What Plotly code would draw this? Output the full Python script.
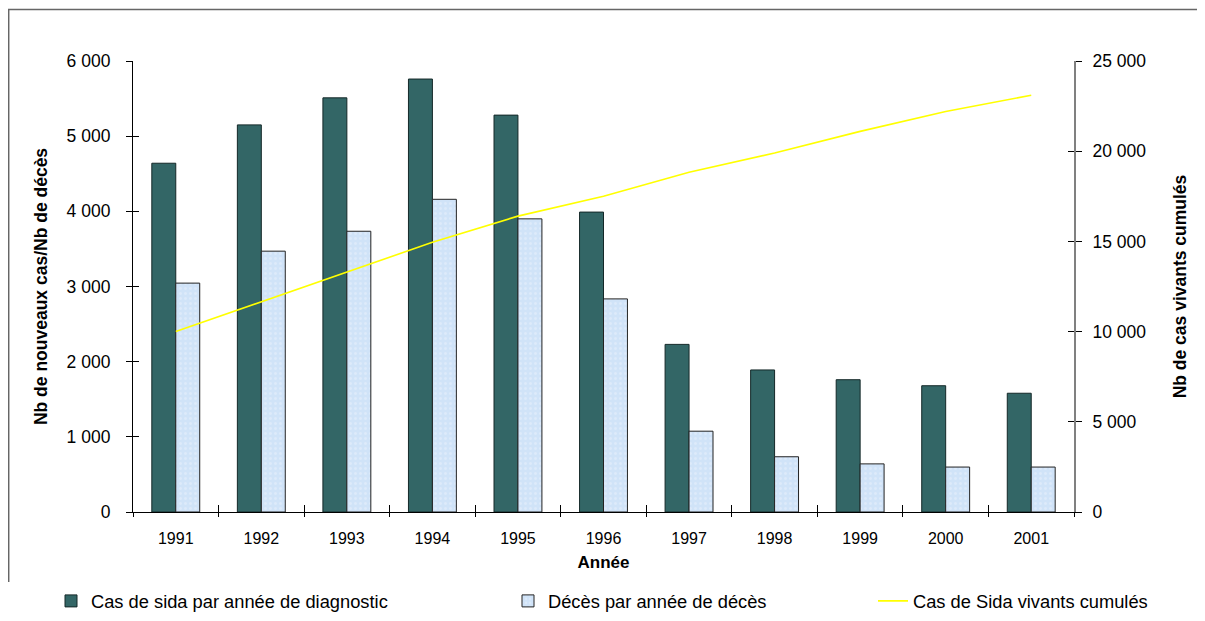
import plotly.graph_objects as go

years = ["1991", "1992", "1993", "1994", "1995", "1996", "1997", "1998", "1999", "2000", "2001"]
cas_sida = [4640, 5150, 5510, 5760, 5280, 3990, 2230, 1890, 1760, 1680, 1580]
deces = [3045, 3470, 3735, 4160, 3900, 2835, 1075, 735, 640, 598, 598]
vivants_cumules = [10000, 11650, 13300, 14950, 16400, 17500, 18830, 19900, 21100, 22200, 23100]

left_ticks = [0, 1000, 2000, 3000, 4000, 5000, 6000]
right_ticks = [0, 5000, 10000, 15000, 20000, 25000]

FONT = "Liberation Sans, Arial, sans-serif"
W, H = 1205, 621
OFF = 8  # page body offset
# plot area in page pixels
PL, PT, PW, PH = 133, 61, 941, 451
L, T = PL - OFF, PT - OFF
R, B = W - L - PW, H - T - PH


def px(x):
    return (x - PL) / PW


def py(y):
    return (PT + PH - y) / PH


fig = go.Figure()
fig.add_trace(go.Bar(
    x=years, y=cas_sida, name="Cas de sida par année de diagnostic",
    marker=dict(color="#336666", line=dict(color="#142828", width=1)),
    legend="legend",
))
fig.add_trace(go.Bar(
    x=years, y=deces, name="Décès par année de décès",
    marker=dict(color="#d0e3f8", line=dict(color="#222222", width=1),
                pattern=dict(shape=".", fgcolor="#e9f2fc", size=5, solidity=0.25)),
    legend="legend2",
))
fig.add_trace(go.Scatter(
    x=years, y=vivants_cumules, name="Cas de Sida vivants cumulés", yaxis="y2",
    mode="lines", line=dict(color="#ffff00", width=1.6),
    legend="legend3",
))
# helper traces for crossing tick marks
fig.add_trace(go.Scatter(x=[0], y=[0], xaxis="x2", yaxis="y3", mode="markers",
                         marker=dict(opacity=0), showlegend=False, hoverinfo="skip"))
fig.add_trace(go.Scatter(x=[0], y=[0], xaxis="x2", yaxis="y4", mode="markers",
                         marker=dict(opacity=0), showlegend=False, hoverinfo="skip"))

tickfont = dict(family=FONT, size=16, color="#000000")
ytickfont = dict(family=FONT, size=17.5, color="#000000")
titlefont = dict(family=FONT, size=17, color="#000000", weight="bold")
ytitlefont = dict(family=FONT, size=17.5, color="#000000", weight="bold")
legfont = dict(family=FONT, size=18.3, color="#000000")

fig.update_layout(
    width=W, height=H,
    margin=dict(l=L, r=R, t=T, b=B, autoexpand=False),
    paper_bgcolor="white", plot_bgcolor="white",
    separators=", ",
    barmode="group", bargap=0.44, bargroupgap=0.0,
    font=dict(family=FONT, color="#000000"),
    xaxis=dict(
        type="category", range=[-0.5, 10.5], showgrid=False, zeroline=False,
        showline=True, linecolor="#000000", linewidth=1.2,
        ticks="outside", ticklen=4, tickcolor="#000000", tickson="boundaries",
        tickfont=tickfont, ticklabelstandoff=12,
        title=dict(text="Ann\u00e9e", font=titlefont, standoff=9),
        automargin=False,
    ),
    xaxis2=dict(
        overlaying="x", anchor="y", range=[-0.5, 10.5],
        tickvals=[i - 0.5 for i in range(12)], ticks="inside", ticklen=7,
        tickcolor="#000000", showticklabels=False, showgrid=False,
        zeroline=False, showline=False,
    ),
    yaxis=dict(
        range=[0, 6000], tickvals=left_ticks, tickformat=",d",
        showgrid=False, zeroline=False, showline=True, linecolor="#000000", linewidth=1.2,
        ticks="outside", ticklen=6, tickcolor="#000000",
        tickfont=ytickfont, ticklabelstandoff=12,
        title=dict(text="Nb de nouveaux cas/Nb de décès", font=ytitlefont, standoff=14),
        automargin=False,
    ),
    yaxis2=dict(
        overlaying="y", side="right", anchor="x", range=[0, 25000], tickvals=right_ticks,
        tickformat=",d", showgrid=False, zeroline=False,
        showline=True, linecolor="#808080", linewidth=2,
        ticks="outside", ticklen=6, tickcolor="#000000",
        tickfont=ytickfont, ticklabelstandoff=7,
        title=dict(text="Nb de cas vivants cumulés", font=ytitlefont, standoff=28),
        automargin=False,
    ),
    yaxis3=dict(
        overlaying="y", side="left", anchor="x2", range=[0, 6000], tickvals=left_ticks,
        ticks="inside", ticklen=6, tickcolor="#000000", showticklabels=False,
        showgrid=False, zeroline=False, showline=False,
    ),
    yaxis4=dict(
        overlaying="y", side="right", anchor="x2", range=[0, 25000], tickvals=right_ticks,
        ticks="inside", ticklen=6, tickcolor="#000000", showticklabels=False,
        showgrid=False, zeroline=False, showline=False,
    ),
    legend=dict(x=px(51), y=py(601), xanchor="left", yanchor="middle",
                font=legfont, bgcolor="rgba(0,0,0,0)"),
    legend2=dict(x=px(508), y=py(601), xanchor="left", yanchor="middle",
                 font=legfont, bgcolor="rgba(0,0,0,0)"),
    legend3=dict(x=px(873), y=py(601), xanchor="left", yanchor="middle",
                 font=legfont, bgcolor="rgba(0,0,0,0)"),
    shapes=[
        dict(type="line", xref="paper", yref="paper", x0=px(8), x1=px(1215), y0=py(9.5), y1=py(9.5),
             line=dict(color="#666666", width=1.5)),
        dict(type="line", xref="paper", yref="paper", x0=px(8.7), x1=px(8.7), y0=py(9.5), y1=py(582),
             line=dict(color="#666666", width=1.5)),
        dict(type="line", xref="paper", yref="paper", x0=px(6.5), x1=px(6.5), y0=py(577), y1=py(630),
             line=dict(color="#666666", width=1.5)),
    ],
)

fig.write_html("out.html")
